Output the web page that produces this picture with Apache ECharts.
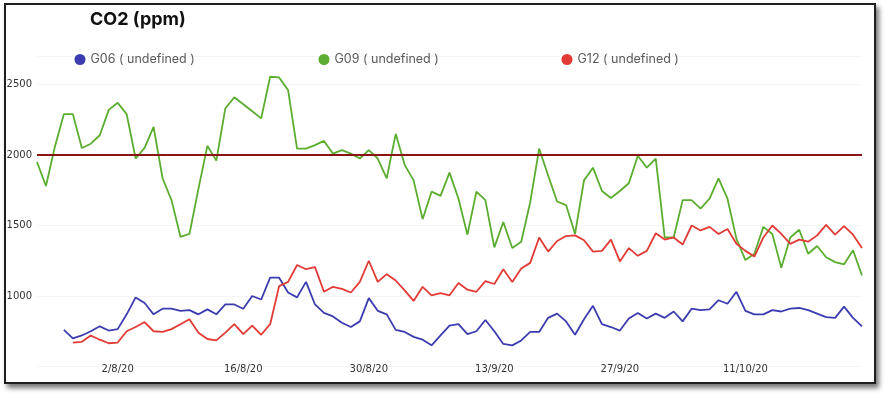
<!DOCTYPE html>
<html>
<head>
<meta charset="utf-8">
<script src="https://cdn.jsdelivr.net/npm/echarts@6/dist/echarts.min.js"></script>
<style>
  html, body { margin:0; padding:0; background:#fff; width:890px; height:398px; overflow:hidden; }
  #frame { position:absolute; left:4px; top:3px; width:872px; height:381px; box-sizing:border-box;
           border:2.5px solid #1e1e1e; background:#fff; box-shadow:3px 4px 5px rgba(0,0,0,0.55); }
  #chart { position:absolute; left:0; top:0; width:890px; height:398px; }
</style>
</head>
<body>
<div id="frame"></div>
<div id="chart"></div>
<script>
const categories = [
  '24/7/20','25/7/20','26/7/20','27/7/20','28/7/20','29/7/20','30/7/20','31/7/20',
  '1/8/20','2/8/20','3/8/20','4/8/20','5/8/20','6/8/20','7/8/20','8/8/20','9/8/20','10/8/20',
  '11/8/20','12/8/20','13/8/20','14/8/20','15/8/20','16/8/20','17/8/20','18/8/20','19/8/20','20/8/20',
  '21/8/20','22/8/20','23/8/20','24/8/20','25/8/20','26/8/20','27/8/20','28/8/20','29/8/20','30/8/20','31/8/20',
  '1/9/20','2/9/20','3/9/20','4/9/20','5/9/20','6/9/20','7/9/20','8/9/20','9/9/20','10/9/20',
  '11/9/20','12/9/20','13/9/20','14/9/20','15/9/20','16/9/20','17/9/20','18/9/20','19/9/20','20/9/20',
  '21/9/20','22/9/20','23/9/20','24/9/20','25/9/20','26/9/20','27/9/20','28/9/20','29/9/20','30/9/20',
  '1/10/20','2/10/20','3/10/20','4/10/20','5/10/20','6/10/20','7/10/20','8/10/20','9/10/20','10/10/20',
  '11/10/20','12/10/20','13/10/20','14/10/20','15/10/20','16/10/20','17/10/20','18/10/20','19/10/20','20/10/20',
  '21/10/20','22/10/20','23/10/20','24/10/20'
];
const xTickLabels = ['2/8/20','16/8/20','30/8/20','13/9/20','27/9/20','11/10/20'];
const seriesNames = ['G06 ( undefined )','G09 ( undefined )','G12 ( undefined )'];

const g06 = [null,null,null,
  760,700,720,750,785,755,765,870,990,950,870,910,910,895,900,870,905,870,940,940,910,
  1000,975,1130,1130,1025,990,1100,940,880,855,810,780,820,985,895,870,760,745,710,690,650,720,790,800,
  730,750,830,750,660,650,685,745,745,845,875,820,725,835,930,800,780,755,840,880,840,875,845,890,
  820,910,900,905,970,945,1030,895,870,870,900,890,910,915,900,875,850,845,925,845,785];

const g09 = [1950,1780,2060,2290,2290,2050,2080,2140,2320,2370,2290,1975,2050,2200,1835,1680,1420,1440,1760,2065,
  1960,2330,2410,2360,2310,2260,2555,2550,2460,2045,2045,2070,2100,2010,2035,2010,1975,2035,1975,1835,
  2150,1930,1820,1545,1740,1710,1875,1690,1435,1740,1680,1345,1525,1340,1385,1665,2045,1855,1670,1645,
  1440,1820,1910,1745,1695,1745,1800,1995,1910,1975,1415,1415,1680,1680,1620,1690,1835,1690,1405,1255,
  1300,1490,1440,1200,1415,1470,1300,1355,1275,1240,1225,1325,1145];

const g12 = [null,null,null,null,
  670,675,720,690,665,670,750,780,815,750,745,765,800,835,740,695,685,740,800,730,
  790,725,800,1070,1100,1220,1190,1205,1030,1065,1050,1025,1100,1250,1100,1155,1110,1040,965,1065,1005,1020,1005,1092,
  1045,1030,1105,1085,1190,1100,1195,1235,1415,1315,1390,1425,1430,1395,1315,1320,1400,1245,1340,1285,1320,1445,1400,1415,
  1365,1500,1465,1490,1440,1475,1370,1320,1280,1415,1500,1440,1370,1400,1385,1430,1505,1435,1495,1435,1340];

const threshold = 2000;
const yMin = 500, yMax = 2700, yStep = 500;
const colors = ['#3c3cb0', '#5aad2f', '#e23b36'];

const chart = echarts.init(document.getElementById('chart'));
const legendCommon = {
  icon: 'circle', itemWidth: 11, itemHeight: 11, itemGap: 5, top: 53, padding: 0,
  textStyle: { fontFamily: 'Inter', fontSize: 12.5, color: '#5a5a5a' }
};
chart.setOption({
  animation: false,
  color: colors,
  title: {
    text: 'CO2 (ppm)', left: 90, top: 11, padding: 0,
    textStyle: { fontFamily: 'Inter', fontWeight: 700, fontSize: 18, color: '#111' }
  },
  legend: [
    Object.assign({ left: 74.5, data: [seriesNames[0]] }, legendCommon),
    Object.assign({ left: 318.5, data: [seriesNames[1]] }, legendCommon),
    Object.assign({ left: 561.5, data: [seriesNames[2]] }, legendCommon)
  ],
  grid: { left: 37, right: 28, top: 56.3, bottom: 31.5, containLabel: false },
  xAxis: {
    type: 'category', data: categories, boundaryGap: false,
    axisLine: { show: false }, axisTick: { show: false },
    axisLabel: {
      interval: (idx, val) => xTickLabels.includes(val),
      margin: -2, fontFamily: 'DejaVu Sans', fontSize: 10, color: '#333'
    },
    splitLine: { show: false }
  },
  yAxis: {
    type: 'value', min: yMin, max: yMax, interval: yStep,
    axisLine: { show: false }, axisTick: { show: false },
    axisLabel: { showMinLabel: false, showMaxLabel: false, margin: 5,
      formatter: v => String(v),
      fontFamily: 'DejaVu Sans', fontSize: 10, color: '#333' },
    splitLine: { lineStyle: { color: '#f5f5f5', width: 1 } }
  },
  series: [
    { name: seriesNames[0], type: 'line', data: g06, showSymbol: false, connectNulls: false,
      lineStyle: { width: 1.8, color: colors[0] } },
    { name: seriesNames[1], type: 'line', data: g09, showSymbol: false,
      lineStyle: { width: 1.8, color: colors[1] },
      markLine: { silent: true, symbol: 'none', label: { show: false },
        lineStyle: { color: '#8b1414', width: 2, type: 'solid' },
        data: [{ yAxis: threshold }] } },
    { name: seriesNames[2], type: 'line', data: g12, showSymbol: false,
      lineStyle: { width: 1.8, color: colors[2] } }
  ]
});
</script>
</body>
</html>
